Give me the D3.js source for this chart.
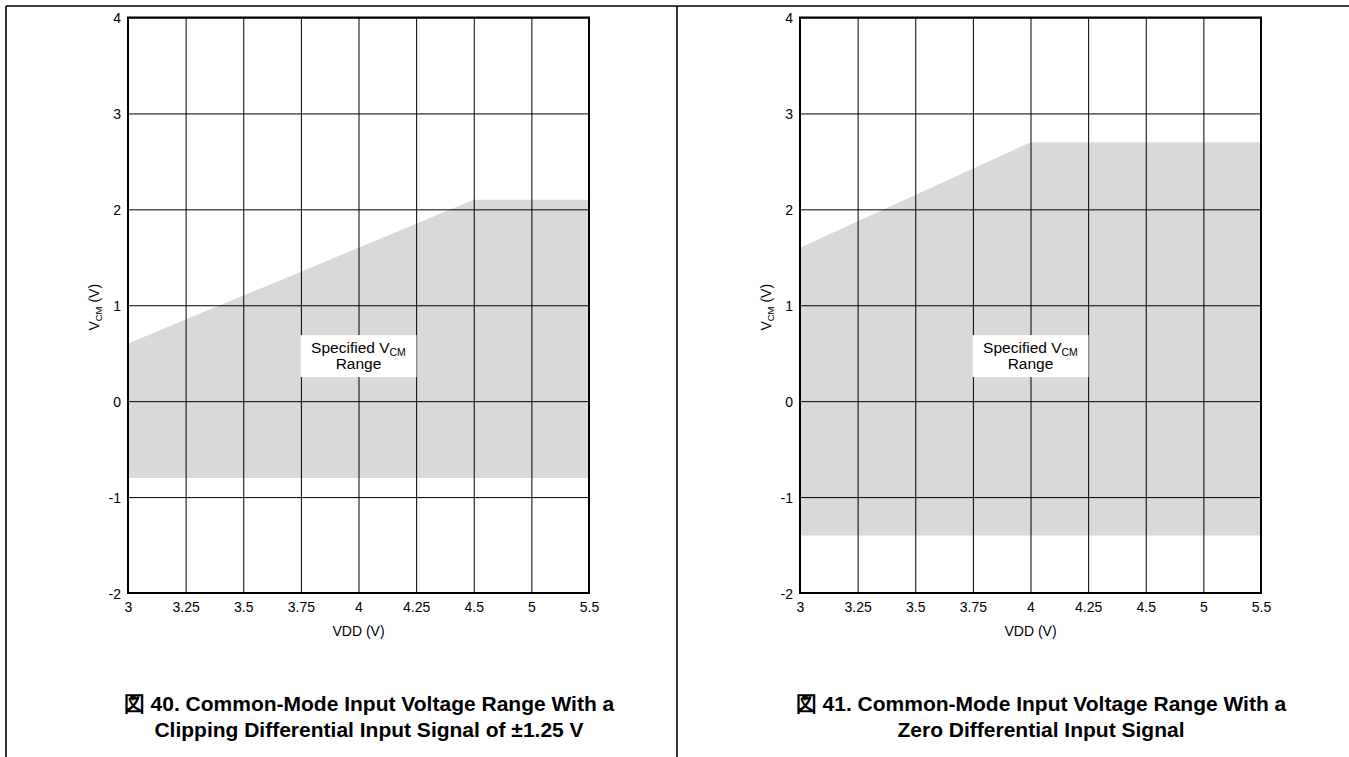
<!DOCTYPE html>
<html><head><meta charset="utf-8">
<script src="https://cdn.jsdelivr.net/npm/d3@7"></script>
<style>
body{margin:0;background:#fff;}
svg{display:block;font-family:"Liberation Sans",Arial,sans-serif;}
</style></head>
<body>
<svg id="c" width="1349" height="757"></svg>
<script>
const xLabels = ["3","3.25","3.5","3.75","4","4.25","4.5","5","5.5"];
const yTicks = [-2,-1,0,1,2,3,4];
const leftUpperX = ["3","4.5","5.5"];
const leftUpperY = [0.6,2.1,2.1];
const leftLowerY = -0.8;
const rightUpperX = ["3","4","5.5"];
const rightUpperY = [1.6,2.7,2.7];
const rightLowerY = -1.4;
const xTitle = "VDD (V)";
const annotation = ["Specified V", "CM", "Range"];
const captionsLeft = ["図 40. Common-Mode Input Voltage Range With a","Clipping Differential Input Signal of ±1.25 V"];
const captionsRight = ["図 41. Common-Mode Input Voltage Range With a","Zero Differential Input Signal"];

const svg = d3.select("#c");
// outer frame lines
svg.append("line").attr("x1",6).attr("x2",1349).attr("y1",6).attr("y2",6).attr("stroke","#000").attr("stroke-width",1.6);
svg.append("line").attr("x1",6).attr("x2",6).attr("y1",6).attr("y2",757).attr("stroke","#000").attr("stroke-width",1.6);
svg.append("line").attr("x1",677).attr("x2",677).attr("y1",6).attr("y2",757).attr("stroke","#000").attr("stroke-width",1.6);

function panel(left, upX, upY, lowY, caps){
  const W = 461, top = 17.5, bottom = 593;
  const x = d3.scalePoint().domain(xLabels).range([left, left+W]);
  const y = d3.scaleLinear().domain([-2,4]).range([bottom, top]);
  const g = svg.append("g");
  // shaded area
  const pts = upX.map((d,i)=>({x:d,y:upY[i]}));
  const area = d3.area().x(d=>x(d.x)).y0(y(lowY)).y1(d=>y(d.y));
  g.append("path").datum(pts).attr("d",area).attr("fill","#d9d9d9");
  // grid
  const gx = g.append("g").attr("transform",`translate(0,${bottom})`)
    .call(d3.axisBottom(x).tickSize(-(bottom-top)).tickSizeOuter(0).tickPadding(9));
  const gy = g.append("g").attr("transform",`translate(${left},0)`)
    .call(d3.axisLeft(y).tickValues(yTicks).tickSize(-W).tickSizeOuter(0).tickPadding(7).tickFormat(d=>String(d)));
  [gx,gy].forEach(a=>{
    a.select(".domain").remove();
    a.selectAll(".tick line").attr("stroke","#000").attr("stroke-width",1);
    a.selectAll(".tick text").attr("fill","#000").style("font-size","14px").style("font-family","'Liberation Sans',Arial,sans-serif");
  });
  gx.selectAll(".tick text").attr("dy","0.71em");
  gy.selectAll(".tick text").attr("dy","0.36em");
  // frame
  g.append("rect").attr("x",left).attr("y",top).attr("width",W).attr("height",bottom-top)
    .attr("fill","none").attr("stroke","#000").attr("stroke-width",2);
  // annotation box
  const cx = (x(xLabels[0])+x(xLabels[xLabels.length-1]))/2;
  const by = y(0.47);
  g.append("rect").attr("x",cx-58).attr("y",by-21).attr("width",116).attr("height",42).attr("fill","#fff");
  const t1 = g.append("text").attr("x",cx).attr("y",by-3).attr("text-anchor","middle").style("font-size","15.5px").attr("fill","#000");
  t1.append("tspan").text(annotation[0]);
  t1.append("tspan").text(annotation[1]).style("font-size","10.5px").attr("dy",3);
  g.append("text").attr("x",cx).attr("y",by+13).attr("text-anchor","middle").style("font-size","15.5px").attr("fill","#000").text(annotation[2]);
  // x title
  g.append("text").attr("x",cx).attr("y",636).attr("text-anchor","middle").style("font-size","14px").attr("fill","#000").text(xTitle);
  // y title
  const yt = g.append("text").attr("transform",`translate(${left-29},${y(1)+2}) rotate(-90)`).attr("text-anchor","middle").style("font-size","14px").attr("fill","#000");
  yt.append("tspan").text("V");
  yt.append("tspan").text("CM").style("font-size","9.5px").attr("dy",3);
  yt.append("tspan").text(" (V)").attr("dy",-3);
  // captions
  caps.forEach((c,i)=>{
    g.append("text").attr("x",left+241).attr("y",711+i*26).attr("text-anchor","middle")
      .style("font-size","21px").style("font-weight","bold").attr("fill","#000").text(c);
  });
}
panel(128, leftUpperX, leftUpperY, leftLowerY, captionsLeft);
panel(800, rightUpperX, rightUpperY, rightLowerY, captionsRight);
</script>
</body></html>
